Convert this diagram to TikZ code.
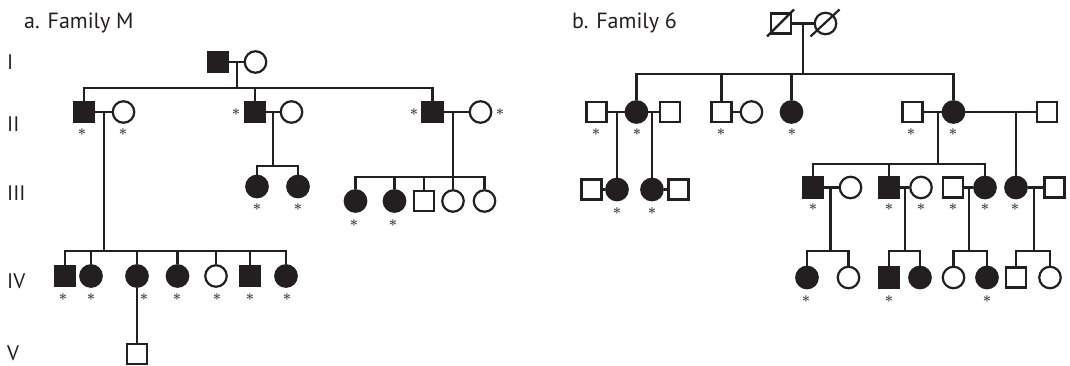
\documentclass[tikz,border=0pt]{standalone}
\usepackage{fontspec}
\setmainfont{PT Sans}
\definecolor{ink}{HTML}{231F20}
\begin{document}
\begin{tikzpicture}[x=1pt,y=-1pt,
  ln/.style={line width=2.2pt, draw=ink},
  psq/.style={rectangle, draw=ink, line width=2.2pt, minimum size=20pt, inner sep=0pt, fill=white},
  asq/.style={psq, fill=ink},
  pci/.style={circle, draw=ink, line width=2.2pt, minimum size=21.5pt, inner sep=0pt, fill=white},
  aci/.style={pci, fill=ink},
  ast/.style={inner sep=0pt, text=ink!85, font=\fontsize{15}{15}\selectfont\boldmath},
  gen/.style={anchor=west, inner sep=0pt, text=ink, font=\fontsize{21}{21}\selectfont},
  ttl/.style={anchor=base west, inner sep=0pt, text=ink, font=\fontsize{22}{22}\selectfont}]
\useasboundingbox[fill=white] (0,0) rectangle (1070,365);

% titles and generation labels
\node[ttl] (ta) at (24,28) {a. Family M};
\node[ttl] (tb) at (572,28) {b. Family 6};
\node[gen] (g1) at (7,62) {I};
\node[gen] (g2) at (7,124) {II};
\node[gen] (g3) at (7,193) {III};
\node[gen] (g4) at (7,281) {IV};
\node[gen] (g5) at (7,353) {V};

% ===== Family M =====
\node[asq] (A1) at (218,62) {};
\node[pci] (A2) at (255.5,62) {};
\coordinate (mA) at (237,62);
\coordinate (sA) at (237,88);

\node[asq] (B1) at (84,112) {};
\node[pci] (B2) at (123.5,112) {};
\node[asq] (B3) at (255,112) {};
\node[pci] (B4) at (291.5,112) {};
\node[asq] (B5) at (432.5,112) {};
\node[pci] (B6) at (480.5,112) {};
\coordinate (mB1) at (104,112);  \coordinate (sB1) at (104,251);
\coordinate (mB3) at (273,112);  \coordinate (sB3) at (273,166);
\coordinate (mB5) at (453,112);  \coordinate (sB5) at (453,177);

\node[aci] (C1) at (257,186.5) {};
\node[aci] (C2) at (298,186.5) {};
\node[aci] (C3) at (355.5,201) {};
\node[aci] (C4) at (394.5,201) {};
\node[psq] (C5) at (424,201) {};
\node[pci] (C6) at (453,201) {};
\node[pci] (C7) at (484.5,201) {};

\node[asq] (D1) at (65,276) {};
\node[aci] (D2) at (91,276) {};
\node[aci] (D3) at (137,276) {};
\node[aci] (D4) at (177.5,276) {};
\node[pci] (D5) at (216,276) {};
\node[asq] (D6) at (250,276) {};
\node[aci] (D7) at (286,276) {};
\node[psq] (E1) at (137,354) {};

\draw[ln] (A1.east) -- (A2.west);
\draw[ln] (mA) -- (sA);
\draw[ln] (B1.north) |- (sA);
\draw[ln] (B3.north) |- (sA);
\draw[ln] (B5.north) |- (sA);
\draw[ln] (B1.east) -- (B2.west);
\draw[ln] (B3.east) -- (B4.west);
\draw[ln] (B5.east) -- (B6.west);
\draw[ln] (mB1) -- (sB1);
\draw[ln] (mB3) -- (sB3);
\draw[ln] (mB5) -- (sB5);
\foreach \n in {C1,C2} \draw[ln] (\n.north) |- (sB3);
\foreach \n in {C3,C4,C5,C6,C7} \draw[ln] (\n.north) |- (sB5);
\foreach \n in {D1,D2,D3,D4,D5,D6,D7} \draw[ln] (\n.north) |- (sB1);
\draw[ln] (D3.south) -- (E1.north);

\foreach \x/\y in {82/132,123/132,236/112,414/112,500/112,257/207,298/207,354/223,393/223,63/297,91/297,144/297,177/297,217/297,250/297,287/297}
  \node[ast] at (\x,\y) {$\ast$};

% ===== Family 6 =====
\node[psq] (G1) at (781,23.5) {};
\node[pci] (G2) at (825.5,23.5) {};
\draw[ln] ([shift={(-14,13)}]G1.center) -- ([shift={(13,-14)}]G1.center);
\draw[ln] ([shift={(-15,13)}]G2.center) -- ([shift={(14,-14)}]G2.center);
\coordinate (mG) at (803,23.5);
\coordinate (sG) at (803,74);

\node[psq] (H1) at (596.5,112) {};
\node[aci] (H2) at (636.5,112) {};
\node[psq] (H3) at (670,112) {};
\node[psq] (H4) at (721.5,112) {};
\node[pci] (H5) at (751.5,112) {};
\node[aci] (H6) at (791.5,112) {};
\node[psq] (H7) at (912.5,112) {};
\node[aci] (H8) at (953.5,112) {};
\node[psq] (H9) at (1047,112) {};
\coordinate (mH12) at (617,112);
\coordinate (mH23) at (652,112);
\coordinate (mH78) at (938,112);  \coordinate (sH78) at (938,164);
\coordinate (mH89) at (1016,112);

\node[psq] (J1) at (591.5,189.5) {};
\node[aci] (J2) at (617,189.5) {};
\node[aci] (J3) at (652,189.5) {};
\node[psq] (J4) at (678.5,189.5) {};

\node[asq] (K1) at (813,187.5) {};
\node[pci] (K2) at (850.5,187.5) {};
\node[asq] (K3) at (889,187.5) {};
\node[pci] (K4) at (921,187.5) {};
\node[psq] (K5) at (953,187.5) {};
\node[aci] (K6) at (985,187.5) {};
\node[aci] (K7) at (1016,187.5) {};
\node[psq] (K8) at (1054.5,187.5) {};
\coordinate (mK12) at (830.5,187.5); \coordinate (sK12) at (830.5,251);
\coordinate (mK34) at (905,187.5);   \coordinate (sK34) at (905,251);
\coordinate (mK56) at (969,187.5);   \coordinate (sK56) at (969,251);
\coordinate (mK78) at (1034,187.5);  \coordinate (sK78) at (1034,251);

\node[aci] (L1) at (807,277.5) {};
\node[pci] (L2) at (848.5,277.5) {};
\node[asq] (L3) at (889,277.5) {};
\node[aci] (L4) at (920,277.5) {};
\node[pci] (L5) at (953.5,277.5) {};
\node[aci] (L6) at (987,277.5) {};
\node[psq] (L7) at (1016,277.5) {};
\node[pci] (L8) at (1050,277.5) {};

\draw[ln] (G1.east) -- (G2.west);
\draw[ln] (mG) -- (sG);
\foreach \n in {H2,H4,H6,H8} \draw[ln] (\n.north) |- (sG);
\draw[ln] (H1.east) -- (H2.west);
\draw[ln] (H2.east) -- (H3.west);
\draw[ln] (H4.east) -- (H5.west);
\draw[ln] (H7.east) -- (H8.west);
\draw[ln] (H8.east) -- (H9.west);
\draw[ln] (mH12) -- (J2.north);
\draw[ln] (mH23) -- (J3.north);
\draw[ln] (mH78) -- (sH78);
\draw[ln] (mH89) -- (K7.north);
\draw[ln] (J1.east) -- (J2.west);
\draw[ln] (J3.east) -- (J4.west);
\foreach \n in {K1,K3,K6} \draw[ln] (\n.north) |- (sH78);
\draw[ln] (K1.east) -- (K2.west);
\draw[ln] (K3.east) -- (K4.west);
\draw[ln] (K5.east) -- (K6.west);
\draw[ln] (K7.east) -- (K8.west);
\draw[ln] (mK12) -- (sK12);
\draw[ln] (mK34) -- (sK34);
\draw[ln] (mK56) -- (sK56);
\draw[ln] (mK78) -- (sK78);
\foreach \n in {L1,L2} \draw[ln] (\n.north) |- (sK12);
\foreach \n in {L3,L4} \draw[ln] (\n.north) |- (sK34);
\foreach \n in {L5,L6} \draw[ln] (\n.north) |- (sK56);
\foreach \n in {L7,L8} \draw[ln] (\n.north) |- (sK78);

\foreach \x/\y in {596/132,637/132,721/132,792/132,911/132,953/132,617/211,652/211,813/207,889/207,921/207,953/207,985/207,1015/207,806/299,889/299,987/299}
  \node[ast] at (\x,\y) {$\ast$};
\end{tikzpicture}
\end{document}
